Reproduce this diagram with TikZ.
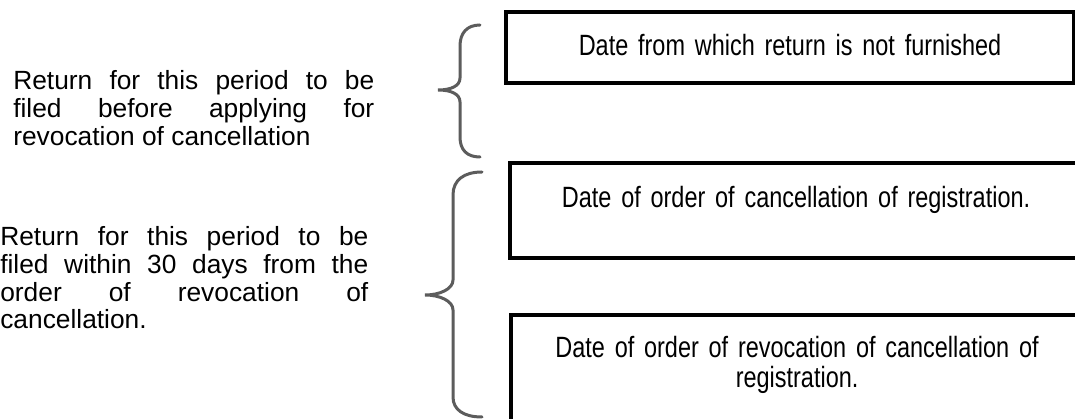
\documentclass[tikz,border=0pt]{standalone}
\usepackage{fontspec}
\setmainfont{Liberation Sans}
\newfontfamily\narrowfont[FakeStretch=0.8,WordSpace=0.8]{Liberation Sans}
\usepackage{xcolor}
\definecolor{bracegray}{HTML}{5C5C5C}

\begin{document}
\begin{tikzpicture}[x=0.6pt,y=-0.6pt,
	datebox/.style={draw, line width=2.5pt, anchor=north west, inner xsep=0pt, align=center, text height=14.4pt, font=\narrowfont\fontsize{17.6}{18}\selectfont},
	periodtext/.style={anchor=base west, inner sep=0pt, align=justify, font=\fontsize{15.8}{16.6}\selectfont},
	bracket/.style={draw=bracegray, line width=1.8pt, line cap=round}]
	\useasboundingbox (0,0) rectangle (1075,419);
	\node[datebox, text width=340.8pt, inner ysep=11.4pt, text depth=5.4pt] (furnished) at (504,10) {Date from which return is not furnished};
	\node[datebox, text width=343.2pt, inner ysep=12pt, text depth=18.6pt] (cancel) at (508,161) {Date of order of cancellation of registration.};
	\node[datebox, text width=343.2pt, inner ysep=10.8pt, text depth=46pt] (revoke) at (509,313) {Date of order of revocation of cancellation of\\registration.};
	\node[periodtext, text width=216.6pt] (before) at (13,90) {Return for this period to be\linebreak filed before applying for\linebreak revocation of cancellation};
	\node[periodtext, text width=220.8pt] (within) at (0,246) {Return for this period to be\linebreak filed within 30 days from the\linebreak order of revocation of\linebreak cancellation.};
	\draw[bracket] (480,25) .. controls (467,25) and (460,33) .. (460,46) -- (460,78) .. controls (460,86) and (451,90) .. (438,90) .. controls (451,90) and (460,94) .. (460,102) -- (460,137) .. controls (460,150) and (467,157) .. (480,157);
	\draw[bracket] (482,172) .. controls (464,172) and (453,180) .. (453,195) -- (453,280) .. controls (453,289) and (440,295) .. (425,295) .. controls (440,295) and (453,301) .. (453,310) -- (453,397) .. controls (453,410) and (464,417) .. (482,417);
\end{tikzpicture}
\end{document}
